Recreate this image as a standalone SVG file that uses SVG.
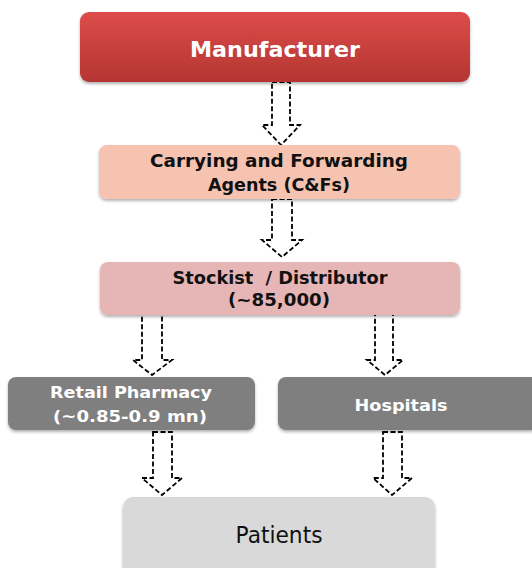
<svg xmlns="http://www.w3.org/2000/svg" width="532" height="568" viewBox="0 0 532 568">
<defs>
<linearGradient id="red" x1="0" y1="0" x2="0" y2="1">
<stop offset="0" stop-color="#dc4c4a"/>
<stop offset="1" stop-color="#b53532"/>
</linearGradient>
<filter id="sh" x="-5%" y="-10%" width="110%" height="130%">
<feDropShadow dx="0" dy="2" stdDeviation="1.5" flood-color="#000" flood-opacity="0.3"/>
</filter>
</defs>
<style>
.arr{fill:#fff;stroke:#000;stroke-width:1.8;stroke-dasharray:5 2.5}
.box{filter:url(#sh)}
.b{font-family:"DejaVu Sans",sans-serif;font-weight:bold;text-anchor:middle}
.w{fill:#fff}
.k{fill:#111}
</style>
<rect width="532" height="568" fill="#fff"/>
<g id="connectors">
<path class="arr" d="M272,82 L290,82 L290,125 L300,125 L281,145 L262,125 L272,125 Z"/>
<path class="arr" d="M272,199 L292,199 L292,240 L302,240 L282,257 L262,240 L272,240 Z"/>
<path class="arr" d="M142,314 L162,314 L162,360 L172,360 L152,375 L133,360 L142,360 Z"/>
<path class="arr" d="M375,314 L393,314 L393,360 L403,360 L385,375 L367,360 L375,360 Z"/>
<path class="arr" d="M153,432 L172,432 L172,478 L182,478 L162,495 L142,478 L153,478 Z"/>
<path class="arr" d="M383,432 L402,432 L402,478 L412,478 L392,495 L373,478 L383,478 Z"/>
</g>
<g id="manufacturer">
<rect class="box" x="80" y="12" width="390" height="70" rx="9" fill="url(#red)"/>
<text class="b w" x="275" y="57" font-size="21" textLength="170" lengthAdjust="spacingAndGlyphs">Manufacturer</text>
</g>
<g id="cf">
<rect class="box" x="99" y="145" width="361" height="54" rx="8" fill="#f6c3b1"/>
<text class="b k" x="279" y="167" font-size="17" textLength="258" lengthAdjust="spacingAndGlyphs">Carrying and Forwarding</text>
<text class="b k" x="279" y="191" font-size="17" textLength="142" lengthAdjust="spacingAndGlyphs">Agents (C&amp;Fs)</text>
</g>
<g id="stockist">
<rect class="box" x="100" y="262" width="360" height="53" rx="8" fill="#e6b5b5"/>
<text class="b k" x="280" y="284" font-size="17" textLength="215" lengthAdjust="spacingAndGlyphs" xml:space="preserve">Stockist  / Distributor</text>
<text class="b k" x="279" y="306" font-size="17" textLength="102" lengthAdjust="spacingAndGlyphs">(~85,000)</text>
</g>
<g id="retail">
<rect class="box" x="8" y="377" width="247" height="53" rx="8" fill="#7f7f7f"/>
<text class="b w" x="131" y="398" font-size="16" textLength="162" lengthAdjust="spacingAndGlyphs">Retail Pharmacy</text>
<text class="b w" x="130" y="422" font-size="16" textLength="154" lengthAdjust="spacingAndGlyphs">(~0.85-0.9 mn)</text>
</g>
<g id="hospitals">
<rect class="box" x="278" y="377" width="262" height="53" rx="8" fill="#7f7f7f"/>
<text class="b w" x="401" y="411" font-size="16" textLength="93" lengthAdjust="spacingAndGlyphs">Hospitals</text>
</g>
<g id="patients">
<rect class="box" x="123" y="497" width="312" height="80" rx="10" fill="#d9d9d9"/>
<text x="279" y="543" font-family="DejaVu Sans,sans-serif" font-size="23" text-anchor="middle" fill="#111" textLength="87" lengthAdjust="spacingAndGlyphs">Patients</text>
</g>
</svg>
